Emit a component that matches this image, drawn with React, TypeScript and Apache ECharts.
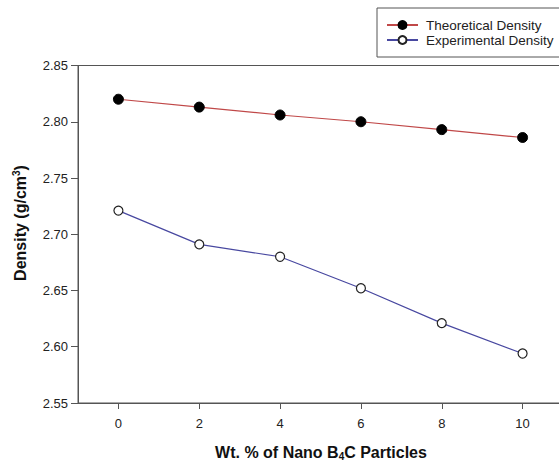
import React, { useEffect, useRef } from "react";
import * as echarts from "echarts";

const xValues = [0, 2, 4, 6, 8, 10];
const theoretical = [2.82, 2.813, 2.806, 2.8, 2.793, 2.786];
const experimental = [2.721, 2.691, 2.68, 2.652, 2.621, 2.594];
const xTicks = [0, 2, 4, 6, 8, 10];
const seriesNames = ["Theoretical Density", "Experimental Density"];

const FONT = "'Liberation Sans', Arial, sans-serif";

export default function App() {
  const ref = useRef<HTMLDivElement>(null);
  useEffect(() => {
    document.body.style.margin = "0";
    const chart = echarts.init(ref.current!, null, { renderer: "svg" });
    chart.setOption({
      animation: false,
      backgroundColor: "#ffffff",
      textStyle: { fontFamily: FONT },
      grid: {
        left: 78,
        top: 65.5,
        width: 485,
        height: 337.5,
        show: true,
        borderColor: "#555",
        borderWidth: 1,
        containLabel: false,
        outerBoundsMode: "none",
      },
      legend: {
        orient: "vertical",
        left: 377,
        top: 8,
        itemWidth: 31,
        itemHeight: 10,
        itemGap: 1,
        padding: [10, 12, 10, 9],
        borderColor: "#555",
        borderWidth: 1,
        textStyle: { fontSize: 13.5, color: "#222", fontFamily: FONT, padding: [0, 0, 0, 3] },
        data: seriesNames,
      },
      xAxis: {
        type: "value",
        min: -1,
        max: 11,
        splitLine: { show: false },
        axisLine: { show: true, onZero: false, lineStyle: { color: "#555" } },
        axisTick: { show: true, length: 6, lineStyle: { color: "#555" }, customValues: xTicks },
        axisLabel: { color: "#222", fontSize: 13, margin: 14, fontFamily: FONT, customValues: xTicks },
      },
      yAxis: {
        type: "value",
        min: 2.55,
        max: 2.85,
        interval: 0.05,
        splitLine: { show: false },
        axisLine: { show: true, onZero: false, lineStyle: { color: "#555" } },
        axisTick: { show: true, length: 7, lineStyle: { color: "#555" } },
        axisLabel: {
          color: "#222",
          fontSize: 13,
          margin: 10,
          fontFamily: FONT,
          formatter: (v: number) => v.toFixed(2),
        },
      },
      graphic: [
        {
          type: "text",
          x: 20,
          y: 223,
          rotation: Math.PI / 2,
          style: {
            text: "{b|Density (g/cm}{s|3}{b|)}",
            align: "center",
            verticalAlign: "middle",
            rich: {
              b: { fontSize: 16, fontWeight: "bold", fill: "#111", fontFamily: FONT },
              s: { fontSize: 10, fontWeight: "bold", fill: "#111", fontFamily: FONT, verticalAlign: "top", padding: [0, 0, 8, 0] },
            },
          },
        },
        {
          type: "text",
          x: 321,
          y: 452,
          style: {
            text: "{b|Wt. % of Nano B}{s|4}{b|C Particles}",
            align: "center",
            verticalAlign: "middle",
            rich: {
              b: { fontSize: 16, fontWeight: "bold", fill: "#111", fontFamily: FONT },
              s: { fontSize: 10, fontWeight: "bold", fill: "#111", fontFamily: FONT, verticalAlign: "bottom", padding: [8, 0, 0, 0] },
            },
          },
        },
      ],
      series: [
        {
          name: seriesNames[0],
          type: "line",
          data: xValues.map((x, i) => [x, theoretical[i]]),
          symbol: "circle",
          symbolSize: 10,
          lineStyle: { color: "#c04848", width: 1.2 },
          itemStyle: { color: "#000", borderColor: "#000", borderWidth: 1 },
        },
        {
          name: seriesNames[1],
          type: "line",
          data: xValues.map((x, i) => [x, experimental[i]]),
          symbol: "circle",
          symbolSize: 9,
          lineStyle: { color: "#4848a0", width: 1.2 },
          itemStyle: { color: "#fff", borderColor: "#222", borderWidth: 1.2 },
        },
      ],
    });
    return () => chart.dispose();
  }, []);
  return <div ref={ref} style={{ position: "absolute", left: 0, top: 0, width: 559, height: 463 }} />;
}
